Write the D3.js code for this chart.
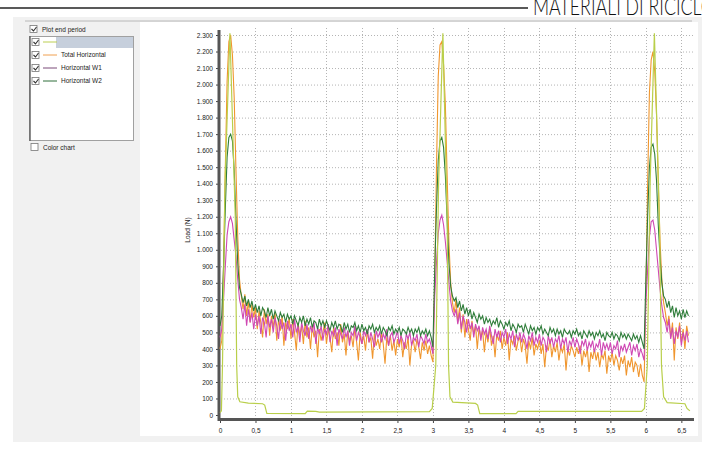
<!DOCTYPE html>
<html>
<head>
<meta charset="utf-8">
<script src="https://cdnjs.cloudflare.com/ajax/libs/d3/7.8.5/d3.min.js"></script>
<style>
body { margin: 0; background: #fff; }
svg { display: block; font-family: "Liberation Sans", Arial, sans-serif; }
</style>
</head>
<body>
<div id="chart"></div>
<script>
// sample step of the logged signals (s)
var dt = 0.025;

// Total Horizontal (N)
var totalH = [
    400, 450, 900, 1500, 2020, 2260, 2300, 2180, 1920, 1480,
    1080, 820, 720, 640, 730, 600, 690, 560, 670, 590,
    650, 520, 630, 560, 470, 640, 550, 610, 480, 600,
    530, 620, 450, 580, 510, 600, 420, 560, 520, 590,
    460, 580, 500, 390, 560, 480, 540, 430, 570, 470,
    530, 400, 540, 470, 510, 350, 520, 450, 500, 560,
    430, 520, 470, 380, 530, 460, 500, 420, 550, 440,
    490, 360, 510, 450, 480, 410, 530, 440, 330, 500,
    430, 480, 390, 510, 440, 470, 340, 490, 420, 460,
    400, 500, 430, 310, 470, 420, 480, 390, 450, 360,
    460, 410, 480, 350, 440, 400, 470, 300, 430, 450,
    380, 460, 410, 340, 440, 390, 450, 370, 420,
    360, 320,
    800, 1500, 2050, 2240,
    2260,
    2120, 1880, 1450, 1050, 800, 680,
    620, 700, 560, 650, 500, 610, 470, 580,
    520, 450, 570, 490, 540, 400, 530, 470, 510, 380,
    500, 440, 530, 420, 480, 350, 490, 450, 510, 400,
    470, 420, 500, 330, 460, 430, 480, 390, 450, 470,
    380, 460, 420, 310, 450, 400, 470, 360, 430, 400,
    450, 370, 430, 290, 420, 390, 460, 350, 420, 380,
    440, 330, 410, 380, 430, 270, 400, 360, 420, 390,
    350, 410, 370, 420, 300, 390, 350, 400, 260, 380,
    340, 400, 330, 380, 290, 370, 340, 390, 250, 360,
    320, 380, 300, 360, 330, 270, 350, 310, 360, 240,
    330, 290, 350, 260, 320, 300, 230, 310,
    240, 200,
    700, 1400, 1950, 2150,
    2200,
    2080, 1820, 1400, 1050, 820, 680,
    620, 540, 600, 470, 560, 330, 530, 460, 560, 440, 520, 400, 540, 480
];

// Horizontal W1 (N)
var horizW1 = [
    470, 520, 700, 900, 1090, 1170, 1200, 1160, 1060, 960,
    820, 700, 650, 580, 670, 540, 640, 560, 620, 520,
    610, 540, 600, 490, 590, 560, 470, 600, 530, 580,
    500, 590, 540, 460, 580, 520, 560, 450, 570, 510,
    550, 470, 580, 500, 540, 440, 560, 510, 480, 550,
    460, 540, 500, 560, 430, 530, 490, 540, 450, 520,
    490, 550, 440, 510, 480, 530, 420, 520, 490, 460,
    530, 470, 510, 420, 500, 480, 540, 450, 500, 470,
    430, 510, 480, 520, 440, 500, 460, 410, 510, 470,
    500, 440, 490, 460, 520, 420, 480, 500, 440, 470,
    510, 430, 480, 450, 400, 490, 460, 500, 420, 470,
    450, 490, 410, 480, 460, 430, 490, 440, 460,
    420, 370,
    720, 920, 1100, 1180,
    1210,
    1150, 1050, 930, 800, 690, 630,
    600, 640, 550, 620, 520, 600, 560, 500,
    580, 520, 560, 470, 550, 510, 540, 450, 530, 490,
    520, 460, 540, 480, 430, 520, 470, 510, 440, 500,
    470, 520, 430, 490, 460, 510, 410, 490, 450, 500,
    440, 490, 460, 400, 480, 450, 500, 420, 470, 440,
    490, 420, 470, 450, 380, 480, 430, 470, 410, 460,
    440, 480, 400, 460, 430, 470, 380, 450, 420, 470,
    410, 460, 430, 370, 450, 420, 460, 390, 440, 410,
    450, 380, 430, 410, 460, 360, 440, 400, 430, 390,
    440, 370, 420, 400, 450, 350, 420, 390, 430, 380,
    410, 440, 360, 420, 390, 430, 350, 400,
    370, 330,
    680, 880, 1080, 1170,
    1180,
    1120, 1000, 880, 760, 660, 590,
    560, 500, 580, 460, 530, 430, 510, 470, 540, 420, 500, 450, 510, 440
];

// Horizontal W2 (N)
var horizW2 = [
    540, 600, 900, 1250, 1560, 1680, 1700, 1660, 1480, 1180,
    920, 770, 730, 680, 720, 660, 700, 650, 690, 630,
    670, 620, 660, 600, 650, 630, 590, 650, 600, 640,
    580, 630, 600, 570, 620, 590, 610, 560, 610, 580,
    600, 550, 600, 570, 540, 590, 560, 600, 540, 580,
    550, 590, 530, 570, 560, 520, 580, 540, 570, 530,
    570, 540, 510, 560, 530, 570, 520, 550, 540, 500,
    560, 520, 550, 500, 540, 530, 560, 510, 540, 500,
    550, 510, 530, 490, 540, 520, 550, 500, 530, 510,
    540, 490, 530, 510, 480, 530, 510, 540, 490, 520,
    500, 530, 480, 520, 510, 490, 530, 500, 520, 480,
    520, 500, 530, 480, 510, 490, 520, 480, 510,
    470, 410,
    880, 1250, 1540, 1660,
    1680,
    1620, 1450, 1180, 920, 780, 720,
    690, 710, 650, 690, 630, 670, 610, 650,
    600, 640, 580, 620, 590, 560, 610, 580, 600, 550,
    590, 560, 580, 540, 570, 550, 590, 530, 570, 550,
    520, 560, 540, 570, 510, 550, 530, 500, 550, 530,
    540, 500, 550, 520, 490, 540, 510, 530, 490, 530,
    510, 540, 490, 520, 500, 480, 530, 500, 520, 480,
    520, 490, 510, 470, 520, 500, 490, 510, 470, 510,
    490, 520, 480, 500, 460, 510, 490, 470, 510, 480,
    500, 460, 500, 480, 510, 470, 490, 450, 500, 480,
    470, 500, 460, 490, 480, 450, 500, 470, 490, 460,
    490, 470, 450, 490, 460, 480, 440, 480,
    440, 400,
    820, 1200, 1500, 1620,
    1640,
    1580, 1420, 1150, 950, 800, 720,
    700, 650, 690, 620, 660, 590, 650, 600, 630, 580, 640, 590, 630, 600
];

// first channel (no name in the list), breakpoints
var pulseT = [0, 0.02, 0.035, 0.07, 0.14, 0.215, 0.235, 0.25, 0.28, 0.4, 0.6, 0.63, 0.66,
    1.2, 1.23, 1.35, 1.4, 2.95, 2.99, 3.04, 3.08, 3.14, 3.2, 3.22, 3.24, 3.28, 3.6, 3.63, 3.66,
    4.17, 4.2, 5.94, 5.98, 6.02, 6.06, 6.12, 6.19, 6.22, 6.25, 6.3, 6.55, 6.58, 6.62];
var pulseV = [15, 25, 300, 1400, 2310, 1200, 300, 110, 80, 72, 68, 60, 10,
    8, 24, 22, 18, 20, 40, 300, 1400, 2310, 1200, 300, 110, 78, 70, 60, 8,
    8, 22, 22, 40, 300, 1400, 2310, 1200, 300, 110, 75, 68, 40, 25];

var legendNames = ["", "Total Horizontal", "Horizontal W1", "Horizontal W2"];
var legendColors = ["#bccf52", "#f0a050", "#7a4a78", "#2f6e3a"];

var yTicks = [0, 100, 200, 300, 400, 500, 600, 700, 800, 900, 1000, 1100, 1200,
    1300, 1400, 1500, 1600, 1700, 1800, 1900, 2000, 2100, 2200, 2300];
var xTicks = [0, 0.5, 1, 1.5, 2, 2.5, 3, 3.5, 4, 4.5, 5, 5.5, 6, 6.5];

var W = 702, H = 450;

var it = d3.formatLocale({decimal: ",", thousands: ".", grouping: [3], currency: ["", " €"]});
var fmtY = it.format(",");
var fmtX = it.format("");

var svg = d3.select("#chart").append("svg")
    .attr("width", W)
    .attr("height", H);

// page header (cut at the top)
svg.append("line")
    .attr("x1", 0).attr("x2", 528)
    .attr("y1", 8).attr("y2", 8)
    .style("stroke", "#222")
    .style("stroke-width", 1.5);

svg.append("text")
    .attr("transform", "translate(533,15) scale(0.74,1)")
    .style("font-family", "Lato, 'Open Sans', sans-serif")
    .style("font-weight", 300)
    .style("font-size", "24px")
    .style("fill", "#111")
    .text("MATERIALI DI RICICLO");

// application window
svg.append("rect")
    .attr("x", 13).attr("y", 17)
    .attr("width", 689).attr("height", 425)
    .style("fill", "#f1f1f1");

svg.append("line")
    .attr("x1", 25).attr("x2", 692)
    .attr("y1", 21).attr("y2", 21)
    .style("stroke", "#b8b8b8");

svg.append("rect")
    .attr("x", 140).attr("y", 22)
    .attr("width", 558).attr("height", 414)
    .style("fill", "#fff");

// left panel
function checkbox(x, y, checked) {
    svg.append("rect")
        .attr("x", x).attr("y", y - 3.5)
        .attr("width", 7).attr("height", 7)
        .style("fill", "#fff")
        .style("stroke", "#777")
        .style("stroke-width", 0.8);
    if (checked) {
        svg.append("path")
            .attr("d", "M" + (x + 1.5) + "," + y + " l2,2 l3,-4")
            .style("fill", "none")
            .style("stroke", "#333")
            .style("stroke-width", 1.1);
    }
}

checkbox(30, 29, true);
svg.append("text")
    .attr("x", 42).attr("y", 31.5)
    .style("font-size", "6.5px")
    .style("fill", "#222")
    .text("Plot end period");

svg.append("rect")
    .attr("x", 29.5).attr("y", 36.5)
    .attr("width", 104).attr("height", 104)
    .style("fill", "#fff")
    .style("stroke", "#a0a0a0");
svg.append("line")
    .attr("x1", 30).attr("x2", 30)
    .attr("y1", 36).attr("y2", 141)
    .style("stroke", "#666")
    .style("stroke-width", 1.5);

svg.append("rect")
    .attr("x", 56).attr("y", 37)
    .attr("width", 77).attr("height", 11)
    .style("fill", "#c6cfdc");

var rowY = [42, 55, 68, 81];
legendNames.forEach(function(name, i) {
    checkbox(32, rowY[i], true);
    svg.append("line")
        .attr("x1", 43).attr("x2", 57)
        .attr("y1", rowY[i]).attr("y2", rowY[i])
        .style("stroke", legendColors[i])
        .style("stroke-width", 1);
    svg.append("text")
        .attr("x", 61).attr("y", rowY[i] + 2.3)
        .style("font-size", "6.5px")
        .style("fill", "#222")
        .text(name);
});

checkbox(31, 147, false);
svg.append("text")
    .attr("x", 43).attr("y", 149.5)
    .style("font-size", "6.5px")
    .style("fill", "#222")
    .text("Color chart");

// chart
var x = d3.scaleLinear().domain([0, 6.65]).range([220, 692]);
var y = d3.scaleLinear().domain([0, 2300]).range([415, 35]);

var grid = svg.append("g");
grid.selectAll(".hg")
    .data(yTicks.slice(1))
    .enter().append("line")
    .attr("x1", 221).attr("x2", 693)
    .attr("y1", function(d) { return y(d) + 0.5; })
    .attr("y2", function(d) { return y(d) + 0.5; })
    .style("stroke", "#b4b4b4")
    .style("stroke-dasharray", "1,2");

grid.selectAll(".vg")
    .data(xTicks.slice(1))
    .enter().append("line")
    .attr("x1", function(d) { return Math.round(x(d)) + 0.5; })
    .attr("x2", function(d) { return Math.round(x(d)) + 0.5; })
    .attr("y1", 28).attr("y2", 418)
    .style("stroke", "#b4b4b4")
    .style("stroke-dasharray", "1,2");

var yAxis = svg.append("g")
    .attr("transform", "translate(219,0)")
    .call(d3.axisLeft(y).tickValues(yTicks).tickFormat(fmtY).tickSize(3).tickPadding(3));
yAxis.select(".domain").remove();
yAxis.selectAll("text").style("font-size", "6.5px").style("fill", "#222").style("font-family", "'Liberation Sans', Arial, sans-serif");
yAxis.selectAll("line").style("stroke", "#444");

var xAxis = svg.append("g")
    .attr("transform", "translate(0,420)")
    .call(d3.axisBottom(x).tickValues(xTicks).tickFormat(fmtX).tickSize(3).tickPadding(5));
xAxis.select(".domain").remove();
xAxis.selectAll("text").style("font-size", "6.5px").style("fill", "#222").style("font-family", "'Liberation Sans', Arial, sans-serif");
xAxis.selectAll("line").style("stroke", "#444");

svg.append("line")
    .attr("x1", 219).attr("x2", 219)
    .attr("y1", 30).attr("y2", 421)
    .style("stroke", "#555")
    .style("stroke-width", 3);
svg.append("line")
    .attr("x1", 218).attr("x2", 694)
    .attr("y1", 419.5).attr("y2", 419.5)
    .style("stroke", "#555")
    .style("stroke-width", 3);

svg.append("text")
    .attr("transform", "translate(190,230) rotate(-90)")
    .attr("text-anchor", "middle")
    .style("font-size", "6.5px")
    .style("fill", "#222")
    .text("Load (N)");

var line = d3.line()
    .x(function(d, i) { return x(i * dt); })
    .y(function(d) { return y(d); });

var series = [
    {name: "Total Horizontal", values: totalH, color: "#f0962e"},
    {name: "Horizontal W1", values: horizW1, color: "#cf48b4"},
    {name: "Horizontal W2", values: horizW2, color: "#2f7d3a"}
];

var plot = svg.append("g");
plot.selectAll(".serie")
    .data(series)
    .enter().append("path")
    .attr("class", "serie")
    .attr("d", function(d) { return line(d.values); })
    .style("fill", "none")
    .style("stroke", function(d) { return d.color; })
    .style("stroke-width", 1.1);

var pulseLine = d3.line()
    .x(function(d, i) { return x(pulseT[i]); })
    .y(function(d) { return y(d); });

plot.append("path")
    .attr("d", pulseLine(pulseV))
    .style("fill", "none")
    .style("stroke", "#b9cf4a")
    .style("stroke-width", 1.2);
</script>
</body>
</html>
